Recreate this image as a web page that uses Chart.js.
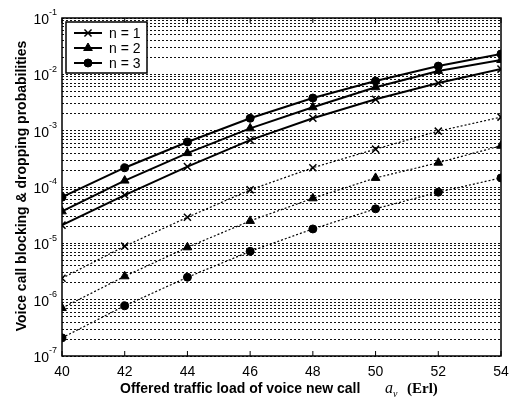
<!DOCTYPE html>
<html>
<head>
<meta charset="utf-8">
<script src="https://cdn.jsdelivr.net/npm/chart.js@4/dist/chart.umd.min.js"></script>
<style>
  html, body { margin: 0; padding: 0; background: #fff; }
  #wrap { width: 509px; height: 401px; }
</style>
</head>
<body>
<div id="wrap"><canvas id="lineChart" width="509" height="401"></canvas></div>
<script>
var loads = [40, 42, 44, 46, 48, 50, 52, 54];
var xTicks = [40, 42, 44, 46, 48, 50, 52, 54];
var yDecades = [-7, -6, -5, -4, -3, -2, -1];

// solid curves
var solidN1 = [2.1e-5, 7.2e-5, 2.3e-4, 6.8e-4, 1.66e-3, 3.6e-3, 7.0e-3, 1.24e-2];
var solidN2 = [3.7e-5, 1.3e-4, 4.0e-4, 1.1e-3, 2.6e-3, 5.9e-3, 1.15e-2, 1.8e-2];
var solidN3 = [6.6e-5, 2.2e-4, 6.3e-4, 1.66e-3, 3.8e-3, 7.6e-3, 1.4e-2, 2.3e-2];
// dotted curves
var dotN1 = [2.4e-6, 8.9e-6, 2.9e-5, 8.9e-5, 2.2e-4, 4.7e-4, 9.8e-4, 1.74e-3];
var dotN2 = [7.1e-7, 2.6e-6, 8.5e-6, 2.5e-5, 6.3e-5, 1.45e-4, 2.7e-4, 5.4e-4];
var dotN3 = [2.1e-7, 7.8e-7, 2.5e-6, 7.2e-6, 1.8e-5, 4.1e-5, 8.1e-5, 1.45e-4];

var legendLabels = ['n = 1', 'n = 2', 'n = 3'];
var markers = ['crossRot', 'triangle', 'circle'];
var markerSizes = [5, 5, 4];

function pts(vals) {
    return vals.map(function (v, i) { return { x: loads[i], y: v }; });
}

function series(vals, k, dotted) {
    return {
        label: dotted ? '' : legendLabels[k],
        data: pts(vals),
        borderColor: '#000',
        backgroundColor: '#000',
        borderWidth: dotted ? 1.2 : 2,
        borderDash: dotted ? [2, 2] : [],
        pointStyle: markers[k],
        pointRadius: markerSizes[k],
        pointBorderWidth: k == 0 ? 1.5 : 1,
        pointBorderColor: '#000',
        pointBackgroundColor: '#000',
        tension: 0,
        fill: false
    };
}

// frame, tick labels, axis titles, legend box
var decorations = {
    id: 'decorations',
    afterDraw: function (chart) {
        var ctx = chart.ctx;
        var a = chart.chartArea;
        var ys = chart.scales.y;
        var xs = chart.scales.x;
        ctx.save();
        ctx.fillStyle = '#000';
        ctx.strokeStyle = '#000';
        ctx.setLineDash([]);

        // frame
        ctx.lineWidth = 1.5;
        ctx.strokeRect(a.left, a.top, a.right - a.left, a.bottom - a.top);

        // x inward ticks at top and bottom
        ctx.lineWidth = 1;
        xTicks.forEach(function (t) {
            var px = xs.getPixelForValue(t);
            ctx.beginPath();
            ctx.moveTo(px, a.bottom); ctx.lineTo(px, a.bottom - 5);
            ctx.moveTo(px, a.top); ctx.lineTo(px, a.top + 5);
            ctx.stroke();
        });

        // x tick labels
        ctx.font = '14px "Liberation Sans", Arial, sans-serif';
        ctx.textAlign = 'center';
        ctx.textBaseline = 'middle';
        xTicks.forEach(function (t) {
            ctx.fillText(String(t), xs.getPixelForValue(t), a.bottom + 16);
        });

        // y tick labels 10^k
        yDecades.forEach(function (k) {
            var py = ys.getPixelForValue(Math.pow(10, k));
            ctx.font = '14px "Liberation Sans", Arial, sans-serif';
            ctx.textAlign = 'right';
            ctx.textBaseline = 'middle';
            ctx.fillText('10', a.left - 13, py + 2);
            ctx.font = '9px "Liberation Sans", Arial, sans-serif';
            ctx.textAlign = 'left';
            ctx.fillText(String(k), a.left - 13, py - 5);
        });

        // y title
        ctx.save();
        ctx.translate(22, 186);
        ctx.rotate(-Math.PI / 2);
        ctx.font = 'bold 14px "Liberation Sans", Arial, sans-serif';
        ctx.textAlign = 'center';
        ctx.textBaseline = 'middle';
        ctx.fillText('Voice call blocking & dropping probabilities', 0, 0);
        ctx.restore();

        // x title with italic a_v and Times (Erl)
        ctx.textBaseline = 'alphabetic';
        ctx.textAlign = 'left';
        var base = 393;
        ctx.font = 'bold 14px "Liberation Sans", Arial, sans-serif';
        ctx.fillText('Offered traffic load of voice new call', 120, base);
        ctx.font = 'italic 16px "Liberation Serif", "Times New Roman", serif';
        ctx.fillText('a', 385, base);
        ctx.font = 'italic 10px "Liberation Serif", "Times New Roman", serif';
        ctx.fillText('v', 393, base + 4);
        ctx.font = 'bold 15px "Liberation Serif", "Times New Roman", serif';
        ctx.fillText('(Erl)', 407, base);

        // legend box
        var bx = a.left + 4, by = a.top + 4, bw = 81, bh = 51;
        ctx.fillStyle = '#fff';
        ctx.fillRect(bx, by, bw, bh);
        ctx.lineWidth = 1.5;
        ctx.strokeRect(bx, by, bw, bh);
        ctx.fillStyle = '#000';
        legendLabels.forEach(function (lab, k) {
            var ry = by + 11 + k * 15;
            ctx.lineWidth = 2;
            ctx.beginPath();
            ctx.moveTo(bx + 8, ry); ctx.lineTo(bx + 36, ry);
            ctx.stroke();
            ctx.lineWidth = k == 0 ? 1.5 : 1;
            Chart.helpers.drawPoint(ctx, { pointStyle: markers[k], radius: markerSizes[k], rotation: 0, borderWidth: 1 }, bx + 22, ry);
            ctx.font = '14px "Liberation Sans", Arial, sans-serif';
            ctx.textAlign = 'left';
            ctx.textBaseline = 'middle';
            ctx.fillText(lab, bx + 43, ry + 1);
        });
        ctx.restore();
    }
};

var ctx1 = document.getElementById('lineChart').getContext('2d');
var lineChart = new Chart(ctx1, {
    type: 'line',
    data: {
        datasets: [
            series(solidN1, 0, false),
            series(solidN2, 1, false),
            series(solidN3, 2, false),
            series(dotN1, 0, true),
            series(dotN2, 1, true),
            series(dotN3, 2, true)
        ]
    },
    plugins: [decorations],
    options: {
        responsive: false,
        animation: false,
        layout: { padding: { left: 0, top: 18, right: 8, bottom: 0 } },
        plugins: {
            legend: { display: false },
            tooltip: { enabled: false }
        },
        scales: {
            x: {
                type: 'linear',
                min: 40,
                max: 54,
                afterFit: function (s) { s.height = 45; },
                afterBuildTicks: function (s) {
                    s.ticks = xTicks.map(function (v) { return { value: v }; });
                },
                grid: { display: false },
                border: { display: false },
                ticks: { display: false }
            },
            y: {
                type: 'logarithmic',
                min: 1e-7,
                max: 1e-1,
                afterFit: function (s) { s.width = 62; },
                afterBuildTicks: function (s) {
                    var t = [];
                    yDecades.forEach(function (k) {
                        for (var m = 1; m <= 9; m++) {
                            if (k == -1 && m > 1) break;
                            t.push({ value: m * Math.pow(10, k) });
                        }
                    });
                    s.ticks = t;
                },
                grid: {
                    color: '#111',
                    lineWidth: 1,
                    drawTicks: false
                },
                border: { display: false, dash: [2, 2] },
                ticks: { display: false }
            }
        }
    }
});
</script>
</body>
</html>
